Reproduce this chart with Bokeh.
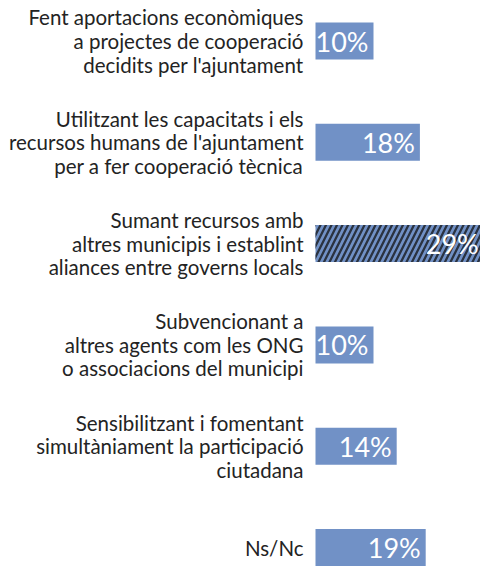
from bokeh.plotting import figure
from bokeh.models import ColumnDataSource, Range1d
from bokeh.core.properties import value
from bokeh.embed import file_html
from bokeh.resources import INLINE

categories = [
    "Fent aportacions econòmiques\na projectes de cooperació\ndecidits per l'ajuntament",
    "Utilitzant les capacitats i els\nrecursos humans de l'ajuntament\nper a fer cooperació tècnica",
    "Sumant recursos amb\naltres municipis i establint\naliances entre governs locals",
    "Subvencionant a\naltres agents com les ONG\no associacions del municipi",
    "Sensibilitzant i fomentant\nsimultàniament la participació\nciutadana",
    "Ns/Nc",
]
values = [10, 18, 29, 10, 14, 19]
highlight = [False, False, True, False, False, False]
value_labels = [f"{v}%" for v in values]

BLUE = "#7191C6"
pos = list(range(len(categories)))

src = ColumnDataSource(dict(
    y=pos,
    v=values,
    cat=categories,
    lab=value_labels,
    zero=[0] * len(values),
    hatch=["/" if h else " " for h in highlight],
))

W, H = 480, 566
x0_px, scale = 315.0, 5.8
row0, step = 40.5, 101.3

p = figure(width=W, height=H, output_backend="svg", toolbar_location=None,
           x_range=Range1d(-x0_px / scale, (W - x0_px) / scale),
           y_range=Range1d((H - row0) / step, -row0 / step),
           min_border=0, min_border_left=0, min_border_right=0,
           min_border_top=0, min_border_bottom=0)
p.axis.visible = False
p.grid.visible = False
p.outline_line_color = None
p.background_fill_color = "white"
p.border_fill_color = "white"

p.hbar(y="y", left="zero", right="v", height=37 / step, source=src,
       fill_color=BLUE, line_color=None,
       hatch_pattern="hatch", hatch_color="#2a3240", hatch_scale=11, hatch_weight=2.3)

p.text(x="zero", y="y", text="cat", source=src, x_offset=-12,
       text_align="right", text_baseline="middle",
       text_font=value("Lato"), text_font_size="20.5px", text_color="#232323",
       text_line_height=0.98)

p.text(x="v", y="y", text="lab", source=src, x_offset=-5, y_offset=0,
       text_align="right", text_baseline="middle",
       text_font=value("Lato"), text_font_size="27px", text_color="white")

open("out.html", "w").write(file_html(p, INLINE))
